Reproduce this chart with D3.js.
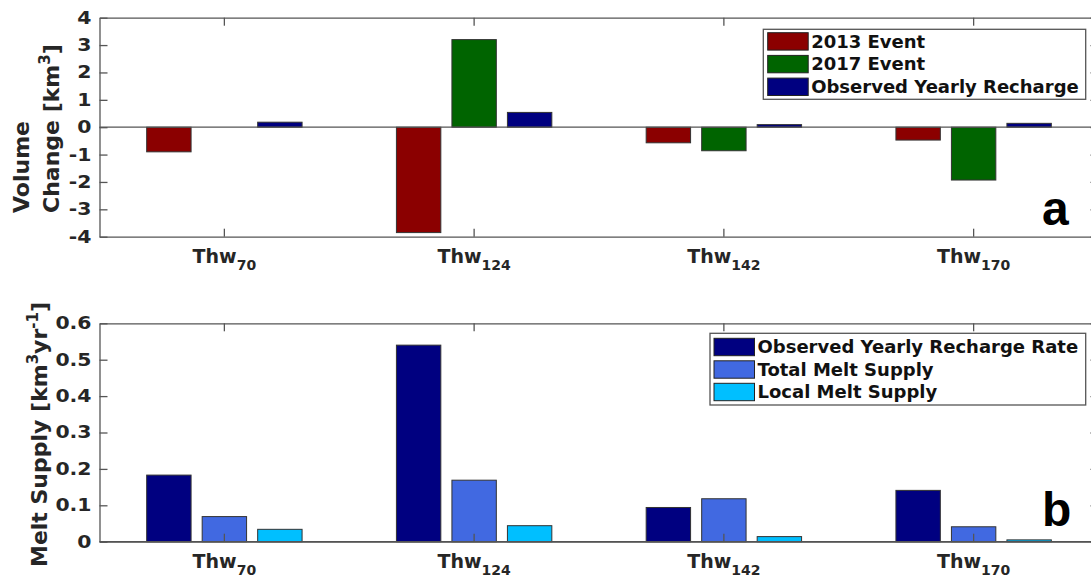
<!DOCTYPE html>
<html>
<head>
<meta charset="utf-8">
<script src="https://cdn.jsdelivr.net/npm/d3@7"></script>
<style>
  body { margin: 0; background: #fff; }
  svg { display: block; }
</style>
</head>
<body>
<div id="chart"></div>
<script>
// categories (subscripts of the Thw labels)
var categories = ["70", "124", "142", "170"];

// panel a : volume change [km^3]
var seriesA = ["2013 Event", "2017 Event", "Observed Yearly Recharge"];
var event2013 = [-0.90, -3.85, -0.57, -0.47];
var event2017 = [null, 3.20, -0.86, -1.93];
var yearlyRecharge = [0.183, 0.540, 0.094, 0.141];
var ticksA = [-4, -3, -2, -1, 0, 1, 2, 3, 4];

// panel b : melt supply [km^3 yr^-1]
var seriesB = ["Observed Yearly Recharge Rate", "Total Melt Supply", "Local Melt Supply"];
var rechargeRate = [0.183, 0.540, 0.094, 0.141];
var totalMelt = [0.069, 0.169, 0.118, 0.041];
var localMelt = [0.034, 0.044, 0.014, 0.005];
var ticksB = [0, 0.1, 0.2, 0.3, 0.4, 0.5, 0.6];

var colorsA = ["#8b0000", "#006400", "#000080"];
var colorsB = ["#000080", "#4169e1", "#00bfff"];

var width = 1091, height = 580,
    xLeft = 99.5, xRight = 1098.5,
    axisColor = "#555", textColor = "#262626";

var svg = d3.select("#chart").append("svg")
    .attr("width", width)
    .attr("height", height);

svg.append("rect").attr("width", width).attr("height", height).attr("fill", "#fff");

var x = d3.scaleBand().domain(categories).range([xLeft, xRight]);

function styleAxis(sel) {
  sel.attr("font-size", null).attr("font-family", null);
  sel.select(".domain").attr("stroke", axisColor).attr("stroke-width", 1.3);
  sel.selectAll(".tick line").attr("stroke", axisColor).attr("stroke-width", 1.3);
}

function drawPanel(o) {
  var g = svg.append("g");
  var y = d3.scaleLinear().domain(o.domain).range([o.bottom, o.top]);
  var groupW = x.bandwidth() * 2 / 3;
  var xs = d3.scaleBand().domain(d3.range(o.series.length))
      .range([-groupW / 2, groupW / 2])
      .paddingInner(0.2).paddingOuter(0.1);

  var rows = [];
  o.values.forEach(function(vals, i) {
    vals.forEach(function(v, j) {
      if (v !== null) rows.push({s: i, cat: categories[j], value: v});
    });
  });

  g.selectAll(".bar")
    .data(rows)
    .enter().append("rect")
      .attr("class", "bar")
      .attr("x", function(d) { return x(d.cat) + x.bandwidth() / 2 + xs(d.s); })
      .attr("width", xs.bandwidth())
      .attr("y", function(d) { return y(Math.max(0, d.value)); })
      .attr("height", function(d) { return Math.abs(y(d.value) - y(0)); })
      .attr("fill", function(d) { return o.colors[d.s]; })
      .attr("stroke", "#333")
      .attr("stroke-width", 1);

  // baseline at zero
  g.append("line")
      .attr("x1", xLeft).attr("x2", xRight)
      .attr("y1", y(0)).attr("y2", y(0))
      .attr("stroke", axisColor).attr("stroke-width", 1.3);

  // left axis with labels
  var left = g.append("g")
      .attr("transform", "translate(" + xLeft + ",0)")
      .call(d3.axisLeft(y).tickValues(o.ticks).tickFormat(o.fmt)
        .tickSizeInner(-8).tickSizeOuter(0).tickPadding(0))
      .call(styleAxis);
  left.selectAll("text")
      .attr("x", 0)
      .attr("transform", "translate(-8,0) scale(1.2,1)")
      .attr("font-family", "DejaVu Sans")
      .attr("font-weight", "bold")
      .attr("font-size", 17)
      .attr("fill", textColor);

  // right axis (ticks only)
  g.append("g")
      .attr("transform", "translate(" + xRight + ",0)")
      .call(d3.axisRight(y).tickValues(o.ticks).tickFormat("")
        .tickSizeInner(-8).tickSizeOuter(0))
      .call(styleAxis);

  // top axis (ticks only)
  g.append("g")
      .attr("transform", "translate(0," + o.top + ")")
      .call(d3.axisTop(x).tickFormat("").tickSizeInner(-8).tickSizeOuter(0))
      .call(styleAxis);

  // bottom axis with Thw_n labels
  var bottom = g.append("g")
      .attr("transform", "translate(0," + o.bottom + ")")
      .call(d3.axisBottom(x).tickFormat("").tickSizeInner(-8).tickSizeOuter(0))
      .call(styleAxis);
  bottom.selectAll(".tick text").remove();
  var lab = bottom.selectAll(".tick").append("text")
      .attr("y", 26.6)
      .attr("text-anchor", "middle")
      .attr("font-family", "DejaVu Sans")
      .attr("font-weight", "bold")
      .attr("font-size", 19)
      .attr("fill", textColor);
  lab.append("tspan").text("Thw");
  lab.append("tspan").attr("dy", 7).attr("font-size", 14).text(function(d) { return d; });

  // y label
  o.ylabel.forEach(function(line) {
    var t = g.append("text")
        .attr("transform", "translate(" + line.x + "," + o.labelStart + ") rotate(-90)")
        .attr("font-family", "DejaVu Sans")
        .attr("font-weight", "bold")
        .attr("font-size", 22)
        .attr("fill", textColor);
    line.parts.forEach(function(p) {
      var ts = t.append("tspan").text(p[0]);
      if (p[1] === "sup") ts.attr("font-size", 15).attr("dy", -9);
      if (p[1] === "down") ts.attr("dy", 9);
    });
  });

  // legend
  var L = o.legend;
  var lg = g.append("g");
  lg.append("rect")
      .attr("x", L.x0).attr("y", L.y0)
      .attr("width", L.x1 - L.x0).attr("height", L.y1 - L.y0)
      .attr("fill", "#fff").attr("stroke", "#555").attr("stroke-width", 1.3);
  var item = lg.selectAll(".item")
    .data(o.series)
    .enter().append("g")
      .attr("transform", function(d, i) { return "translate(0," + (L.rowY + i * L.pitch) + ")"; });
  item.append("rect")
      .attr("x", L.swX).attr("y", 0)
      .attr("width", 40.5).attr("height", 17.4)
      .attr("fill", function(d, i) { return o.colors[i]; })
      .attr("stroke", "#222").attr("stroke-width", 1);
  item.append("text")
      .attr("x", L.swX + 43.5).attr("y", 14.8)
      .attr("font-family", "DejaVu Sans")
      .attr("font-weight", "bold")
      .attr("font-size", 18)
      .attr("fill", "#111")
      .text(function(d) { return d; });

  // panel letter
  g.append("text")
      .attr("x", 1042).attr("y", o.letterY)
      .attr("font-family", "Liberation Sans, Arial, sans-serif")
      .attr("font-weight", "bold")
      .attr("font-size", 48)
      .attr("fill", "#000")
      .text(o.letter);
}

drawPanel({
  top: 17.7, bottom: 236.7,
  domain: [-4, 4],
  ticks: ticksA,
  fmt: function(d) { return String(d); },
  series: seriesA,
  values: [event2013, event2017, yearlyRecharge],
  colors: colorsA,
  labelStart: 213,
  ylabel: [
    {x: 29, parts: [["Volume"]]},
    {x: 59.3, parts: [["Change [km"], ["3", "sup"], ["]", "down"]]}
  ],
  legend: {x0: 763.3, x1: 1085.7, y0: 29.3, y1: 99.3, swX: 767.7, rowY: 32.7, pitch: 22.7},
  letter: "a", letterY: 225
});

drawPanel({
  top: 323.3, bottom: 541.7,
  domain: [0, 0.6],
  ticks: ticksB,
  fmt: function(d) { return d === 0 ? "0" : d.toFixed(1); },
  series: seriesB,
  values: [rechargeRate, totalMelt, localMelt],
  colors: colorsB,
  labelStart: 567,
  ylabel: [
    {x: 46.5, parts: [["Melt Supply [km"], ["3", "sup"], ["yr", "down"], ["-1", "sup"], ["]", "down"]]}
  ],
  legend: {x0: 710, x1: 1085.7, y0: 333.3, y1: 405, swX: 714, rowY: 338.3, pitch: 22.5},
  letter: "b", letterY: 526
});
</script>
</body>
</html>
